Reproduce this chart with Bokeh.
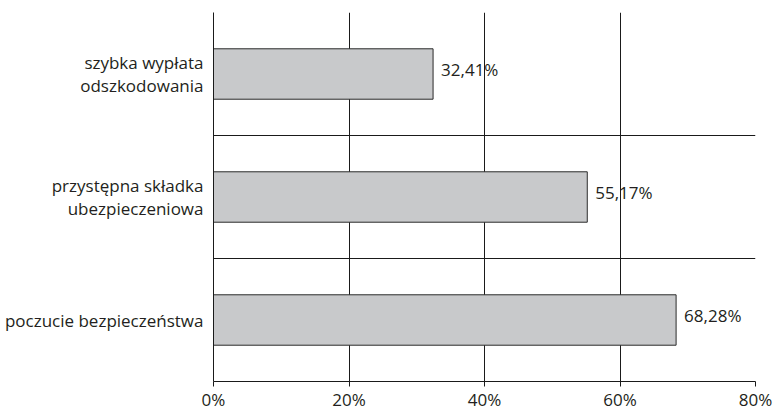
from bokeh.plotting import figure
from bokeh.models import Range1d, FixedTicker, ColumnDataSource
from bokeh.embed import file_html
from bokeh.resources import INLINE
from bokeh.core.properties import value

categories = ["poczucie bezpieczeństwa", "przystępna składka\nubezpieczeniowa", "szybka wypłata\nodszkodowania"]
values = [68.28, 55.17, 32.41]
value_labels = ["68,28%", "55,17%", "32,41%"]
x_ticks = [0, 20, 40, 60, 80]
x_tick_labels = ["0%", "20%", "40%", "60%", "80%"]

FONT = "Open Sans"
TXT = "#231f20"
FS = "17px"

pos = [i + 0.5 for i in range(len(categories))]
src = ColumnDataSource(dict(y=pos, v=values, lab=value_labels))

p = figure(width=778, height=413, output_backend="svg", toolbar_location=None,
           x_range=Range1d(0, 80), y_range=Range1d(0, len(categories)),
           min_border_left=213, min_border_right=23, min_border_top=12, min_border_bottom=31)
p.outline_line_color = None
p.background_fill_color = "white"
p.border_fill_color = "white"

p.hbar(y="y", right="v", left=0, height=0.41, source=src,
       fill_color="#c8c9cb", line_color="#2b2b2b", line_width=1)
p.text(x="v", y="y", text="lab", source=src, x_offset=8, y_offset=-5, text_baseline="middle",
       text_align="left", text_font=value(FONT), text_font_size=FS, text_color=TXT)

# grids
p.xgrid.ticker = FixedTicker(ticks=x_ticks[1:])
p.xgrid.grid_line_color = "#1a1a1a"
p.xgrid.grid_line_width = 1
p.ygrid.ticker = FixedTicker(ticks=[1, 2, 3])
p.ygrid.grid_line_color = "#1a1a1a"
p.ygrid.grid_line_width = 1

# x axis
xa = p.xaxis[0]
xa.ticker = FixedTicker(ticks=x_ticks)
xa.major_label_overrides = {t: l for t, l in zip(x_ticks, x_tick_labels)}
xa.minor_tick_line_color = None
xa.major_tick_out = 0
xa.major_tick_in = -5
xa.axis_line_color = "#1a1a1a"
xa.major_tick_line_color = "#1a1a1a"
xa.major_label_text_font = FONT
xa.major_label_text_font_size = FS
xa.major_label_text_color = TXT
xa.major_label_standoff = 6

# y axis
ya = p.yaxis[0]
ya.ticker = FixedTicker(ticks=pos)
ya.major_label_overrides = {t: l for t, l in zip(pos, categories)}
ya.minor_tick_line_color = None
ya.major_tick_line_color = None
ya.major_tick_out = 0
ya.major_tick_in = 0
ya.axis_line_color = "#1a1a1a"
ya.major_label_text_font = FONT
ya.major_label_text_font_size = FS
ya.major_label_text_color = TXT
ya.major_label_text_line_height = 1.0
ya.major_label_standoff = 10

open("out.html", "w").write(file_html(p, INLINE))
